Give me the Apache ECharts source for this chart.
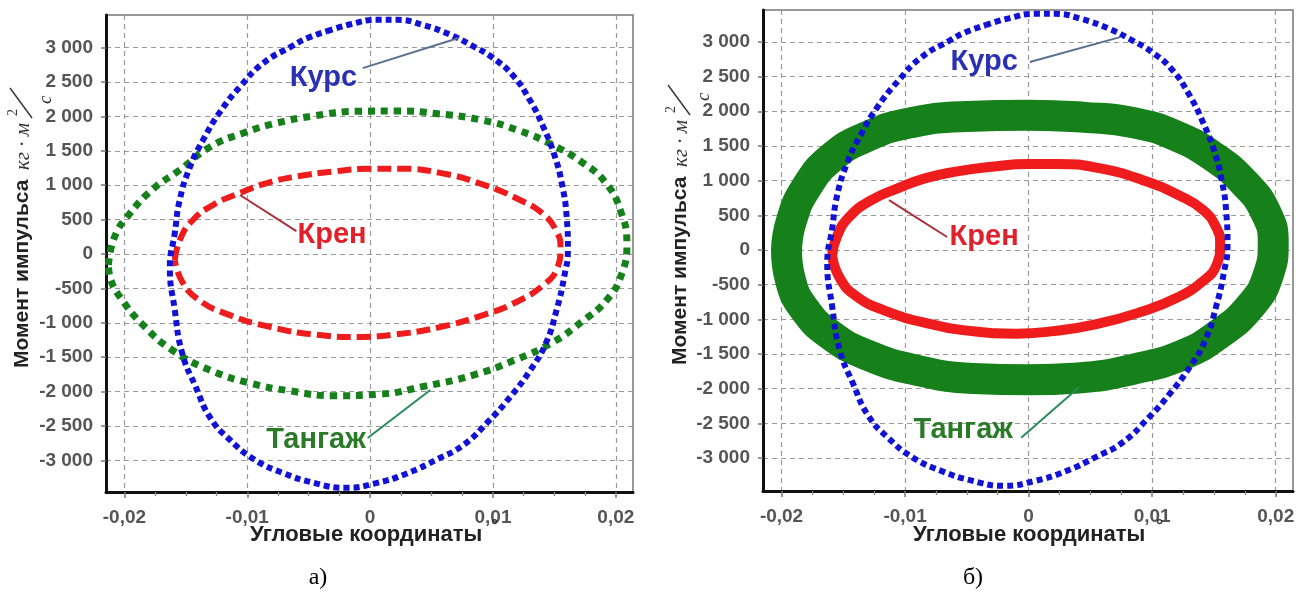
<!DOCTYPE html>
<html>
<head>
<meta charset="utf-8">
<script src="https://cdn.jsdelivr.net/npm/echarts@6/dist/echarts.min.js"></script>
<style>
html, body { margin: 0; padding: 0; background: #fff; }
#chart { width: 1302px; height: 592px; }
</style>
</head>
<body>
<div id="chart"></div>
<script>
// tick values
const xTicks = [-0.02, -0.01, 0, 0.01, 0.02];
const xMinorTicks = [-0.0175, -0.015, -0.0125, -0.0075, -0.005, -0.0025,
  0.0025, 0.005, 0.0075, 0.0125, 0.015, 0.0175];
const yTicks = [-3000, -2500, -2000, -1500, -1000, -500, 0, 500, 1000, 1500, 2000, 2500, 3000];

// Курс (same trajectory on both plots)
const kurs = [
  [-0.0035, 3240], [-0.0016, 3340], [0.0005, 3405], [0.0022, 3405], [0.0043, 3330], [0.0065, 3190],
  [0.0083, 3030], [0.0100, 2850], [0.0116, 2602], [0.0130, 2238], [0.0141, 1846], [0.0150, 1440],
  [0.0156, 1032], [0.0160, 538], [0.0161, 58], [0.0158, -330], [0.0152, -800], [0.0143, -1300],
  [0.0130, -1700], [0.0114, -2079], [0.0097, -2420], [0.0076, -2776], [0.0055, -2980], [0.0030, -3190],
  [0.0005, -3330], [-0.0020, -3400], [-0.0045, -3330], [-0.0071, -3183], [-0.0094, -2990], [-0.0114, -2704],
  [-0.0130, -2384], [-0.0142, -1930], [-0.0153, -1439], [-0.0159, -814], [-0.0163, -189], [-0.0159, 305],
  [-0.0155, 785], [-0.0147, 1250], [-0.0136, 1657], [-0.0122, 2070], [-0.0105, 2450], [-0.0087, 2776],
  [-0.0065, 3009], [-0.0051, 3140], [-0.0035, 3240]
];

// Крен (same trajectory on both plots)
const kren = [
  [-0.0159, -87], [-0.0155, 200], [-0.0145, 480], [-0.0128, 712], [-0.0106, 887], [-0.0084, 1032],
  [-0.0059, 1130], [-0.0030, 1200], [0.0000, 1240], [0.0024, 1240], [0.0057, 1180], [0.0092, 1010],
  [0.0122, 785], [0.0141, 580], [0.0152, 320], [0.0155, 80], [0.0152, -220], [0.0141, -451],
  [0.0120, -690], [0.0092, -887], [0.0055, -1070], [0.0020, -1170], [-0.0010, -1206], [-0.0043, -1175],
  [-0.0081, -1061], [-0.0117, -870], [-0.0140, -660], [-0.0153, -400], [-0.0159, -87]
];

// Тангаж, plot а)
const tangazhA = [
  [-0.0213, -160], [-0.0208, 250], [-0.0196, 580], [-0.0177, 940], [-0.0155, 1221], [-0.0130, 1560],
  [-0.0103, 1760], [-0.0076, 1904], [-0.0045, 2010], [-0.0010, 2075], [0.0022, 2079], [0.0055, 2040],
  [0.0090, 1950], [0.0120, 1802], [0.0148, 1590], [0.0172, 1340], [0.0192, 1030], [0.0204, 620],
  [0.0209, 150], [0.0205, -280], [0.0193, -660], [0.0172, -990], [0.0148, -1290], [0.0118, -1540],
  [0.0084, -1760], [0.0045, -1920], [0.0006, -2040], [-0.0030, -2060], [-0.0065, -1990], [-0.0098, -1875],
  [-0.0130, -1690], [-0.0160, -1410], [-0.0185, -1030], [-0.0203, -640], [-0.0211, -380], [-0.0213, -160]
];

// Тангаж, plot б) (centre of the wide band)
const tangazhB = [
  [-0.0196, 0], [-0.0192, 420], [-0.0180, 900], [-0.0159, 1339], [-0.0130, 1642], [-0.0095, 1835],
  [-0.0050, 1925], [0.0000, 1944], [0.0045, 1912], [0.0085, 1835], [0.0120, 1640], [0.0150, 1340],
  [0.0175, 960], [0.0192, 540], [0.0198, 100], [0.0194, -360], [0.0180, -800], [0.0155, -1200],
  [0.0125, -1510], [0.0086, -1714], [0.0040, -1845], [0.0000, -1872], [-0.0045, -1852], [-0.0092, -1728],
  [-0.0130, -1520], [-0.0160, -1230], [-0.0182, -840], [-0.0193, -420], [-0.0196, 0]
];

// annotation anchors in data units: [text centre, leader start, leader end]
const kursNoteA = [[-0.0038, 2558], [-0.0006, 2703], [0.0072, 3140]];
const krenNoteA = [[-0.0031, 276], [-0.0060, 334], [-0.0106, 858]];
const tangazhNoteA = [[-0.0044, -2703], [-0.0002, -2674], [0.0049, -1977]];
const kursNoteB = [[-0.0036, 2709], [0.0001, 2709], [0.0074, 3069]];
const krenNoteB = [[-0.0036, 187], [-0.0066, 187], [-0.0113, 720]];
const tangazhNoteB = [[-0.0053, -2594], [-0.0006, -2709], [0.0041, -1974]];

const FONT = 'Liberation Sans, Arial, sans-serif';
const BLUE = '#1212d4', RED = '#ee1c1c', GREEN = '#16801a';

function fmtX(v) {
  if (Math.abs(v) < 1e-9) return '0';
  return String(+v.toFixed(3)).replace('.', ',');
}
function fmtY(v) {
  const s = String(Math.abs(v));
  const t = s.length > 3 ? s.slice(0, -3) + ' ' + s.slice(-3) : s;
  return (v < 0 ? '-' : '') + t;
}

const tickLabel = { fontSize: 19, color: '#555', fontFamily: FONT, fontWeight: 'bold' };
const gridLine = { show: true, lineStyle: { color: '#9a9a9a', type: [5, 4], width: 1.2 } };

function mainX(gi) {
  return {
    type: 'value', gridIndex: gi, min: -0.0215, max: 0.0214, position: 'bottom',
    axisLine: { show: true, onZero: false, lineStyle: { color: '#111', width: 3 } },
    axisTick: { show: true, customValues: xTicks, length: 6, lineStyle: { color: '#777', width: 1.5 } },
    axisLabel: Object.assign({ customValues: xTicks, formatter: fmtX, margin: 16 }, tickLabel),
    splitLine: gridLine
  };
}
function minorX(gi) {
  return {
    type: 'value', gridIndex: gi, min: -0.0215, max: 0.0214, position: 'bottom',
    axisLine: { show: false, onZero: false },
    axisTick: { show: true, customValues: xMinorTicks, length: 4, lineStyle: { color: '#888', width: 1.3 } },
    axisLabel: { show: false },
    splitLine: { show: false }
  };
}
function mainY(gi, lo, hi) {
  return {
    type: 'value', gridIndex: gi, min: lo, max: hi,
    axisLine: { show: true, onZero: false, lineStyle: { color: '#111', width: 3 } },
    axisTick: { show: true, customValues: yTicks, length: 5, lineStyle: { color: '#777', width: 1.5 } },
    axisLabel: Object.assign({ customValues: yTicks, formatter: fmtY, margin: 13 }, tickLabel),
    splitLine: gridLine
  };
}

function curve(name, xi, yi, data, lineStyle, z) {
  return {
    name: name, type: 'line', xAxisIndex: xi, yAxisIndex: yi, data: data,
    smooth: 0.5, symbol: 'none', silent: true, z: z,
    lineStyle: Object.assign({ cap: 'butt', join: 'round' }, lineStyle)
  };
}

const chart = echarts.init(document.getElementById('chart'));
chart.setOption({
  animation: false,
  backgroundColor: '#fff',
  grid: [
    { left: 106, top: 15, width: 527, height: 477, show: true, borderColor: '#777', borderWidth: 1.5 },
    { left: 763, top: 10, width: 530, height: 481, show: true, borderColor: '#777', borderWidth: 1.5 }
  ],
  xAxis: [mainX(0), minorX(0), mainX(1), minorX(1)],
  yAxis: [mainY(0, -3460, 3475), mainY(1, -3475, 3460)],
  series: [
    curve('Тангаж', 0, 0, tangazhA, { color: GREEN, width: 7, type: [7, 6] }, 2),
    curve('Крен', 0, 0, kren, { color: RED, width: 6, type: [14, 6] }, 3),
    curve('Курс', 0, 0, kurs, { color: BLUE, width: 6, type: [6, 4] }, 4),
    curve('Тангаж', 2, 1, tangazhB, { color: GREEN, width: 31, type: 'solid', cap: 'round' }, 2),
    curve('Крен', 2, 1, kren, { color: RED, width: 10, type: 'solid', cap: 'round' }, 3),
    curve('Курс', 2, 1, kurs, { color: BLUE, width: 6, type: [6, 4] }, 4)
  ]
});

function px(gi, p) { return chart.convertToPixel({ gridIndex: gi }, p); }

function note(gi, anchors, text, textColor, lineColor) {
  const c = px(gi, anchors[0]), a = px(gi, anchors[1]), b = px(gi, anchors[2]);
  return [
    { type: 'line', shape: { x1: a[0], y1: a[1], x2: b[0], y2: b[1] },
      style: { stroke: lineColor, lineWidth: 2 }, z: 20 },
    { type: 'text', x: c[0], y: c[1], z: 21,
      style: { text: text, fill: textColor, font: 'bold 29px ' + FONT, align: 'center', verticalAlign: 'middle' } }
  ];
}

function yName(x0, y0) {
  return [
    { type: 'text', x: x0, y: y0, rotation: Math.PI / 2, z: 20,
      style: { text: 'Момент импульса', fill: '#222', font: 'bold 21px ' + FONT, align: 'left', verticalAlign: 'middle' } },
    { type: 'text', x: x0 + 1, y: y0 - 198, rotation: Math.PI / 2, z: 20,
      style: { text: 'кг · м', fill: '#333', font: 'italic 21px Liberation Serif, serif', align: 'left', verticalAlign: 'middle' } },
    { type: 'text', x: x0 - 9, y: y0 - 252, rotation: Math.PI / 2, z: 20,
      style: { text: '2', fill: '#333', font: '14px Liberation Serif, serif', align: 'left', verticalAlign: 'middle' } },
    { type: 'line', shape: { x1: x0 + 10, y1: y0 - 250, x2: x0 - 12, y2: y0 - 280 },
      style: { stroke: '#333', lineWidth: 1.4 }, z: 20 },
    { type: 'text', x: x0 + 24, y: y0 - 264, rotation: Math.PI / 2, z: 20,
      style: { text: 'с', fill: '#333', font: 'italic 19px Liberation Serif, serif', align: 'left', verticalAlign: 'middle' } }
  ];
}

function xName(x0, y0, degX) {
  return [
    { type: 'text', x: x0, y: y0, z: 20,
      style: { text: 'Угловые координаты', fill: '#222', font: 'bold 22px ' + FONT, align: 'left', verticalAlign: 'middle' } },
    { type: 'text', x: degX, y: y0 - 9, z: 20,
      style: { text: '°', fill: '#333', font: 'bold 18px ' + FONT, align: 'left', verticalAlign: 'middle' } }
  ];
}

const graphics = [].concat(
  note(0, kursNoteA, 'Курс', '#2a30b4', '#5a7090'),
  note(0, krenNoteA, 'Крен', '#e2202a', '#a8303c'),
  note(0, tangazhNoteA, 'Тангаж', '#2a7a2a', '#2a8a5a'),
  note(1, kursNoteB, 'Курс', '#2a30b4', '#5a7090'),
  note(1, krenNoteB, 'Крен', '#e2202a', '#a8303c'),
  note(1, tangazhNoteB, 'Тангаж', '#2a7a2a', '#2a8a5a'),
  yName(22, 368), yName(680, 365),
  xName(250, 535, 491), xName(913, 535, 1156),
  [
    { type: 'text', x: 318, y: 578, z: 20,
      style: { text: 'а)', fill: '#000', font: '24px Liberation Serif, serif', align: 'center', verticalAlign: 'middle' } },
    { type: 'text', x: 973, y: 578, z: 20,
      style: { text: 'б)', fill: '#000', font: '24px Liberation Serif, serif', align: 'center', verticalAlign: 'middle' } }
  ]
);
chart.setOption({ graphic: graphics });
</script>
</body>
</html>
